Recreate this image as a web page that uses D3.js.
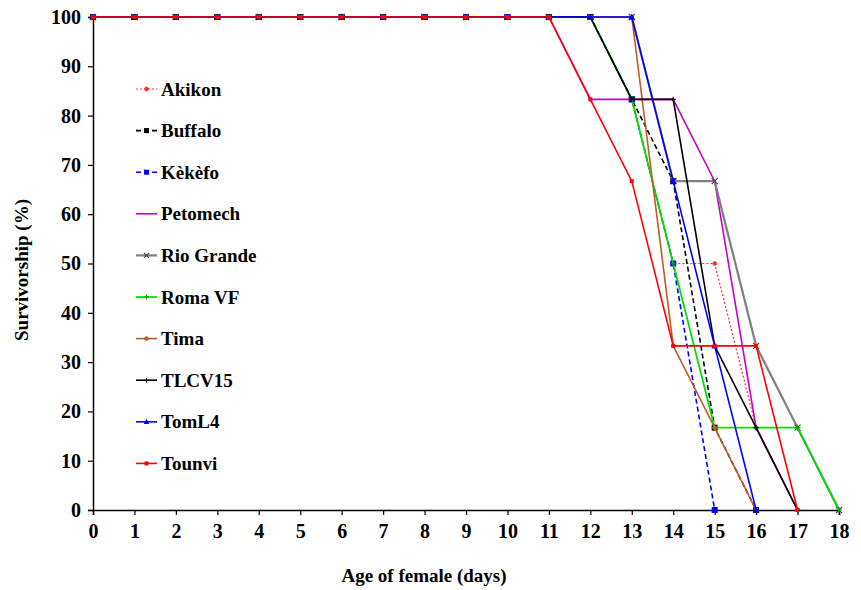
<!DOCTYPE html>
<html><head><meta charset="utf-8">
<script src="https://cdn.jsdelivr.net/npm/d3@7"></script>
<style>body{margin:0;background:#fff}svg{display:block}text{font-family:"Liberation Serif","Times New Roman",serif;font-weight:bold}</style>
</head><body><svg id="c" width="861" height="590"></svg>
<script>
const days = [0,1,2,3,4,5,6,7,8,9,10,11,12,13,14,15,16,17,18];
const yTicks = [0,10,20,30,40,50,60,70,80,90,100];
const seriesNames = ["Akikon","Buffalo","Kèkèfo","Petomech","Rio Grande","Roma VF","Tima","TLCV15","TomL4","Tounvi"];
const akikon    = [100,100,100,100,100,100,100,100,100,100,100,100,100,83.3,50,50,16.7,0];
const buffalo   = [100,100,100,100,100,100,100,100,100,100,100,100,100,83.3,66.7,16.7,0];
const kekefo    = [100,100,100,100,100,100,100,100,100,100,100,100,100,83.3,50,0];
const petomech  = [100,100,100,100,100,100,100,100,100,100,100,100,83.3,83.3,83.3,66.7,16.7,0];
const rioGrande = [100,100,100,100,100,100,100,100,100,100,100,100,100,100,66.7,66.7,33.3,16.7,0];
const romaVF    = [100,100,100,100,100,100,100,100,100,100,100,100,100,83.3,50,16.7,16.7,16.7,0];
const tima      = [100,100,100,100,100,100,100,100,100,100,100,100,100,100,33.3,16.7,0];
const tlcv15    = [100,100,100,100,100,100,100,100,100,100,100,100,100,83.3,83.3,33.3,16.7,0];
const tomL4     = [100,100,100,100,100,100,100,100,100,100,100,100,100,100,66.7,33.3,0];
const tounvi    = [100,100,100,100,100,100,100,100,100,100,100,100,83.3,66.7,33.3,33.3,33.3,0];
const allValues = [akikon,buffalo,kekefo,petomech,rioGrande,romaVF,tima,tlcv15,tomL4,tounvi];

const styles = [
  {color:"#ff3030", dash:"2,2", w:1.2, marker:"circle", mcolor:"#ff3030", ms:4},
  {color:"#000000", dash:"5,3", w:1.6, marker:"square", mcolor:"#000000", ms:6},
  {color:"#0000ff", dash:"5,3", w:1.6, marker:"square", mcolor:"#0000ff", ms:6},
  {color:"#cc00cc", dash:null, w:1.6, marker:"none", mcolor:"#cc00cc", ms:0},
  {color:"#808080", dash:null, w:2.2, marker:"x", mcolor:"#404040", ms:6},
  {color:"#00e000", dash:null, w:1.8, marker:"plus", mcolor:"#00a000", ms:6},
  {color:"#c05a28", dash:null, w:1.6, marker:"circle", mcolor:"#c05a28", ms:4},
  {color:"#000000", dash:null, w:1.6, marker:"plus", mcolor:"#000000", ms:5},
  {color:"#0000ff", dash:null, w:1.6, marker:"triangle", mcolor:"#0000ff", ms:6},
  {color:"#ff0000", dash:null, w:1.6, marker:"square", mcolor:"#ff0000", ms:4}
];

const svg = d3.select("#c");
const x = d3.scaleLinear().domain([0,18]).range([93,839]);
const y = d3.scaleLinear().domain([0,100]).range([510,17]);

// axes
const gx = svg.append("g").attr("transform","translate(0,510)")
  .call(d3.axisBottom(x).tickValues(days).tickSize(5).tickPadding(6).tickFormat(d3.format("d")));
const gy = svg.append("g").attr("transform","translate(93,0)")
  .call(d3.axisLeft(y).tickValues(yTicks).tickSize(5).tickPadding(7));
[gx,gy].forEach(g=>{
  g.select(".domain").attr("stroke","#000").attr("stroke-width",1.5);
  g.selectAll(".tick line").attr("stroke","#000").attr("stroke-width",1.2);
  g.selectAll("text").attr("font-family","Liberation Serif").attr("font-weight","bold").attr("font-size",20).attr("fill","#000");
});
gx.selectAll("text").attr("dy","0.85em");

svg.append("text").attr("x",424).attr("y",582).attr("text-anchor","middle").attr("font-size",19).text("Age of female (days)");
svg.append("text").attr("transform","translate(28,270) rotate(-90)").attr("text-anchor","middle").attr("font-size",19).text("Survivorship (%)");

function drawMarker(g, type, cx, cy, col, s){
  if(type==="circle") g.append("circle").attr("cx",cx).attr("cy",cy).attr("r",s*0.5).attr("fill",col).attr("stroke",col).attr("stroke-width",0.6);
  else if(type==="square") g.append("rect").attr("x",cx-s/2).attr("y",cy-s/2).attr("width",s).attr("height",s).attr("fill",col);
  else if(type==="triangle") g.append("path").attr("d",`M${cx},${cy-s*0.6}L${cx+s*0.55},${cy+s*0.45}L${cx-s*0.55},${cy+s*0.45}Z`).attr("fill",col);
  else if(type==="x") g.append("path").attr("d",`M${cx-s/2},${cy-s/2}L${cx+s/2},${cy+s/2}M${cx-s/2},${cy+s/2}L${cx+s/2},${cy-s/2}`).attr("stroke",col).attr("stroke-width",1.1);
  else if(type==="plus") g.append("path").attr("d",`M${cx-s/2},${cy}L${cx+s/2},${cy}M${cx},${cy-s/2}L${cx},${cy+s/2}`).attr("stroke",col).attr("stroke-width",1.1);
}

const line = d3.line().x(d=>x(d[0])).y(d=>y(d[1]));
allValues.forEach((vals,i)=>{
  const st = styles[i];
  const pts = vals.map((v,j)=>[days[j],v]);
  const g = svg.append("g");
  g.append("path").attr("d",line(pts)).attr("fill","none").attr("stroke",st.color)
    .attr("stroke-width",st.w).attr("stroke-dasharray",st.dash);
  pts.forEach(p=>drawMarker(g, st.marker, x(p[0]), y(p[1]), st.mcolor, st.ms));
});

// legend
const legX = 136, legY0 = 89, legStep = 41.6;
seriesNames.forEach((name,i)=>{
  const st = styles[i];
  const ly = legY0 + i*legStep;
  const g = svg.append("g");
  g.append("line").attr("x1",legX).attr("x2",legX+21).attr("y1",ly).attr("y2",ly)
    .attr("stroke",st.color).attr("stroke-width",st.w).attr("stroke-dasharray",st.dash);
  drawMarker(g, st.marker, legX+10.5, ly, st.mcolor, Math.min(st.ms,5));
  g.append("text").attr("x",legX+25).attr("y",ly).attr("dy","0.35em").attr("font-size",19).text(name);
});
</script></body></html>
